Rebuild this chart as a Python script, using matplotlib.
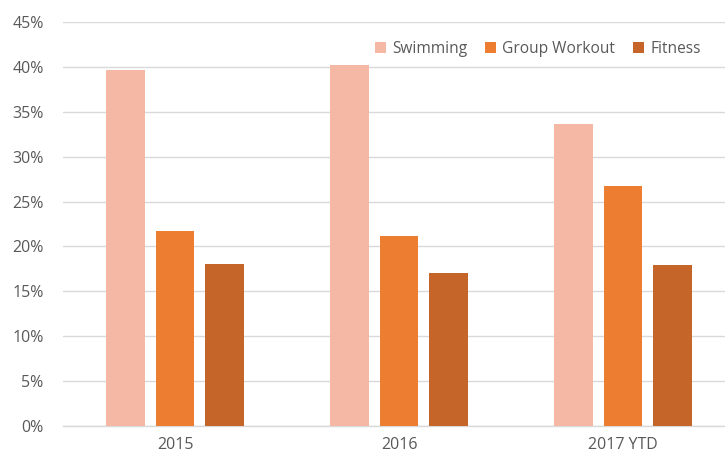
import matplotlib
matplotlib.use("Agg")
import matplotlib.pyplot as plt
import numpy as np

categories = ["2015", "2016", "2017 YTD"]
series_names = ["Swimming", "Group Workout", "Fitness"]
swimming = [39.6, 40.2, 33.6]
group_workout = [21.7, 21.2, 26.7]
fitness = [18.0, 17.0, 17.9]
colors = ["#F4B8A4", "#ED7D31", "#C5652A"]
yticks = [0, 5, 10, 15, 20, 25, 30, 35, 40, 45]

plt.rcParams['font.family'] = ['Open Sans', 'DejaVu Sans']
fig = plt.figure(figsize=(7.25, 4.54), dpi=100)
ax = fig.add_axes([63/725, 1 - 426/454, 672/725, 404/454])

x = np.arange(len(categories))
w = 0.174
step = 0.219
for i, (vals, name, c) in enumerate(zip([swimming, group_workout, fitness], series_names, colors)):
    ax.bar(x + (i - 1) * step, vals, width=w, color=c, label=name, zorder=3)

ax.set_xlim(-0.5, 2.5)
ax.set_ylim(0, 45)
ax.set_yticks(yticks)
ax.set_yticklabels([f"{t}%" for t in yticks])
ax.set_xticks(x)
ax.set_xticklabels(categories)
ax.grid(axis='y', color='#D9D9D9', linewidth=1, zorder=0)
for s in ['top', 'right', 'left']:
    ax.spines[s].set_visible(False)
ax.spines['bottom'].set_color('#D9D9D9')
ax.spines['bottom'].set_linewidth(1)
ax.tick_params(axis='both', length=0, colors='#595959', labelsize=11.5)
ax.tick_params(axis='y', pad=14)
ax.tick_params(axis='x', pad=8)

leg = ax.legend(loc='upper right', bbox_to_anchor=((707 - 63) / 672, 0.968), ncol=3, frameon=False,
                fontsize=11.2, handlelength=0.7, handleheight=0.7, handletextpad=0.4,
                columnspacing=1.15, borderaxespad=0)
for t in leg.get_texts():
    t.set_color('#595959')

fig.savefig("out.png", dpi=100)
